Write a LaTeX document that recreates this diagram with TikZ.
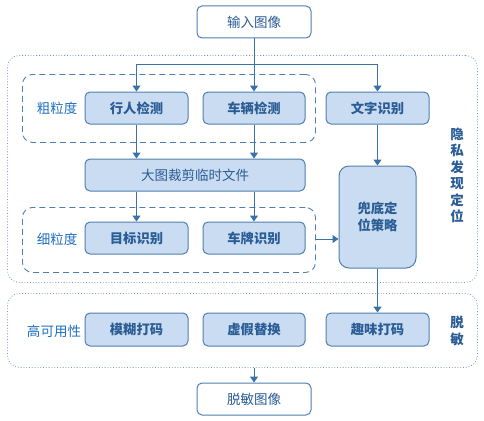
\documentclass[tikz,border=0pt]{standalone}
\usepackage{fontspec}
\setmainfont{Noto Sans CJK SC}
\usetikzlibrary{arrows.meta}
\definecolor{boxfill}{HTML}{CADCF1}
\definecolor{boxline}{HTML}{4F7FB0}
\definecolor{txtb}{HTML}{2A5C96}
\definecolor{lbl}{HTML}{2070C0}
\definecolor{conn}{HTML}{3A72A8}
\begin{document}
\begin{tikzpicture}[x=1pt,y=-1pt,
  proc/.style={draw=boxline,fill=boxfill,line width=1pt,rounded corners=5pt,text=txtb,font=\fontsize{13.3}{15}\selectfont\bfseries,inner sep=0pt},
  io/.style={draw=boxline,fill=white,line width=1pt,rounded corners=5pt,text=txtb,font=\fontsize{13.5}{15}\selectfont,inner sep=0pt},
  grp/.style={draw=boxline,line width=0.9pt,dash pattern=on 6pt off 4pt,rounded corners=10pt},
  outer/.style={draw=boxline!80,line width=0.8pt,dotted,rounded corners=12pt},
  lab/.style={text=lbl,font=\fontsize{13.5}{15}\selectfont,inner sep=0pt},
  vlab/.style={text=txtb,font=\fontsize{13.5}{16.5}\selectfont\bfseries,inner sep=0pt,align=center},
  conn/.style={draw=conn,line width=1pt,-{Triangle[length=6pt,width=8pt]}}
]
\useasboundingbox (0,0) rectangle (484,420);
% outer boxes
\node[outer,minimum width=470pt,minimum height=227pt,anchor=north west] (o1) at (7,55) {};
\node[outer,minimum width=470pt,minimum height=74pt,anchor=north west] (o2) at (7,293) {};
% group boxes
\node[grp,minimum width=293pt,minimum height=68pt,anchor=north west] (g1) at (22,74) {};
\node[grp,minimum width=293pt,minimum height=65pt,anchor=north west] (g2) at (22,207) {};
% nodes
\node[io,minimum width=114pt,minimum height=32pt] (in) at (254,22) {输入图像};
\node[proc,minimum width=103pt,minimum height=32pt] (p1) at (136.5,108) {行人检测};
\node[proc,minimum width=102pt,minimum height=32pt] (p2) at (254,108) {车辆检测};
\node[proc,minimum width=103pt,minimum height=32pt] (p3) at (377.5,108) {文字识别};
\node[proc,minimum width=220pt,minimum height=32pt,font=\fontsize{13.5}{15}\selectfont] (crop) at (195,175) {大图裁剪临时文件};
\node[proc,minimum width=103pt,minimum height=32pt] (f1) at (136.5,238) {目标识别};
\node[proc,minimum width=102pt,minimum height=32pt] (f2) at (254,238) {车牌识别};
\node[proc,minimum width=77pt,minimum height=102pt,align=center,rounded corners=10pt,font=\fontsize{13.3}{17}\selectfont\bfseries] (fb) at (377.5,217) {兜底定\\位策略};
\node[proc,minimum width=103pt,minimum height=33pt] (d1) at (136.5,329.5) {模糊打码};
\node[proc,minimum width=102pt,minimum height=33pt] (d2) at (254,329.5) {虚假替换};
\node[proc,minimum width=103pt,minimum height=33pt] (d3) at (377.5,329.5) {趣味打码};
\node[io,minimum width=114pt,minimum height=32pt] (out) at (254,399) {脱敏图像};
% labels
\node[lab] (l1) at (57,108) {粗粒度};
\node[lab] (l2) at (57,239) {细粒度};
\node[lab] (l3) at (54,331) {高可用性};
\node[vlab] (v1) at (457,175.5) {隐\\私\\发\\现\\定\\位};
\node[vlab] (v2) at (457,331) {脱\\敏};
% connectors
\coordinate (split) at (254,64);
\draw[conn,-] (in.south) -- (split);
\draw[conn] (split) -- (p2.north);
\draw[conn] (split) -| (p1.north);
\draw[conn] (split) -| (p3.north);
\draw[conn] (p1.south) -- (p1.south |- crop.north);
\draw[conn] (p2.south) -- (p2.south |- crop.north);
\draw[conn] (f1.north |- crop.south) -- (f1.north);
\draw[conn] (f2.north |- crop.south) -- (f2.north);
\draw[conn] (p3.south) -- (fb.north);
\draw[conn] (g2.east |- 0,239) -- (fb.west |- 0,239);
\draw[conn] (fb.south) -- (d3.north);
\draw[conn] (o2.south -| out.north) -- (out.north);
\end{tikzpicture}
\end{document}
